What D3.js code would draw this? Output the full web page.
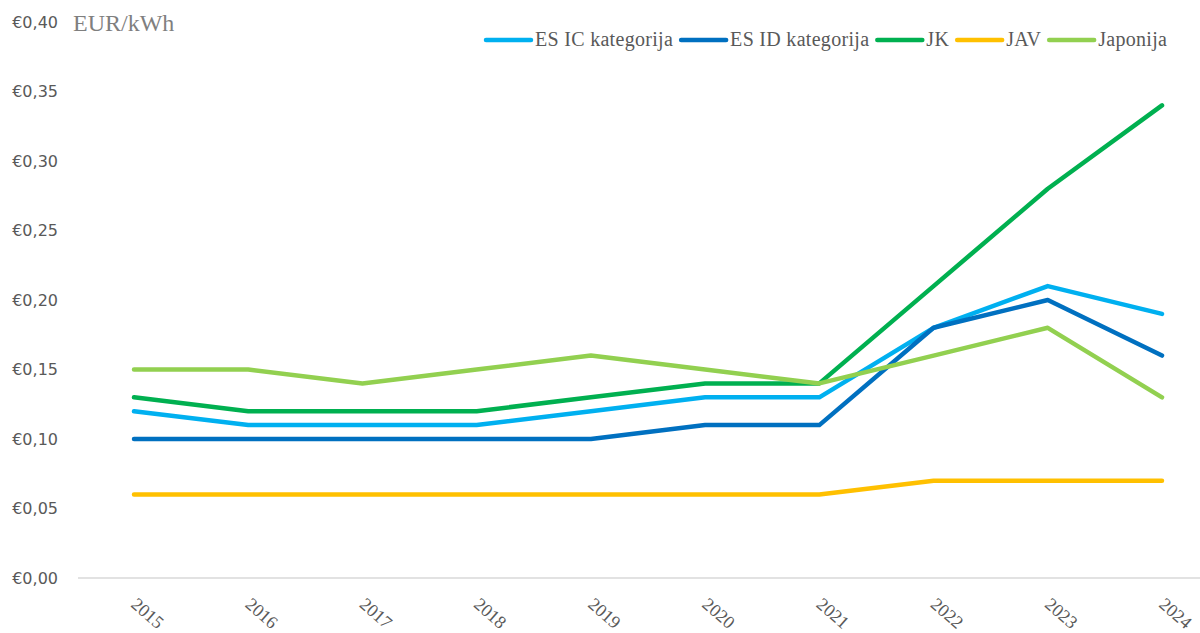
<!DOCTYPE html>
<html><head><meta charset="utf-8">
<script src="https://cdn.jsdelivr.net/npm/d3@7/dist/d3.min.js"></script>
<style>body{margin:0;background:#fff}svg{display:block}</style>
</head><body>
<svg id="c" width="1200" height="633"></svg>
<script>
const years = ["2015","2016","2017","2018","2019","2020","2021","2022","2023","2024"];
const seriesNames = ["ES IC kategorija","ES ID kategorija","JK","JAV","Japonija"];
const esIC = [0.12,0.11,0.11,0.11,0.12,0.13,0.13,0.18,0.21,0.19];
const esID = [0.10,0.10,0.10,0.10,0.10,0.11,0.11,0.18,0.20,0.16];
const jk   = [0.13,0.12,0.12,0.12,0.13,0.14,0.14,0.21,0.28,0.34];
const jav  = [0.06,0.06,0.06,0.06,0.06,0.06,0.06,0.07,0.07,0.07];
const japonija = [0.15,0.15,0.14,0.15,0.16,0.15,0.14,0.16,0.18,0.13];
const yTicks = [0,0.05,0.10,0.15,0.20,0.25,0.30,0.35,0.40];
const colors = ["#00B0F0","#0070C0","#00B050","#FFC000","#92D050"];
const allSeries = [esIC, esID, jk, jav, japonija];

const svg = d3.select("#c");
const x = d3.scalePoint().domain(years).range([134,1162]);
const y = d3.scaleLinear().domain([0,0.40]).range([578,22]);
const serif = "'Liberation Serif', 'Times New Roman', serif";

// baseline
svg.append("line").attr("x1",78).attr("x2",1200).attr("y1",y(0)).attr("y2",y(0))
  .attr("stroke","#d9d9d9").attr("stroke-width",1.5);

// y labels
const fmt = v => "€" + v.toFixed(2).replace(".", ",");
svg.append("g").selectAll("text").data(yTicks).join("text")
  .attr("x",58).attr("y",d=>y(d)).attr("dy","0.36em")
  .attr("text-anchor","end").attr("font-family","'DejaVu Sans', sans-serif")
  .attr("font-size",16).attr("fill","#595959").text(fmt);

svg.append("text").attr("x",73).attr("y",31).attr("font-family",serif)
  .attr("font-size",24).attr("fill","#7f7f7f").text("EUR/kWh");

// x labels
svg.append("g").selectAll("text").data(years).join("text")
  .attr("transform",d=>`translate(${x(d)-4},${606}) rotate(41)`)
  .attr("font-family",serif)
  .attr("font-size",18).attr("fill","#595959").text(d=>d);

// lines
const line = d3.line().x((d,i)=>x(years[i])).y(d=>y(d));
allSeries.forEach((s,k)=>{
  svg.append("path").attr("d",line(s)).attr("fill","none")
    .attr("stroke",colors[k]).attr("stroke-width",4.5)
    .attr("stroke-linejoin","round").attr("stroke-linecap","round");
});

// legend
const lg = svg.append("g");
let cx = 484;
seriesNames.forEach((n,k)=>{
  lg.append("line").attr("x1",cx+2).attr("x2",cx+47).attr("y1",40).attr("y2",40)
    .attr("stroke",colors[k]).attr("stroke-width",4.5).attr("stroke-linecap","round");
  const t = lg.append("text").attr("x",cx+51).attr("y",46)
    .attr("font-family",serif).attr("letter-spacing",0.3)
    .attr("font-size",20).attr("fill","#595959").text(n);
  cx += 51 + t.node().getComputedTextLength() + 6;
});
</script>
</body></html>
